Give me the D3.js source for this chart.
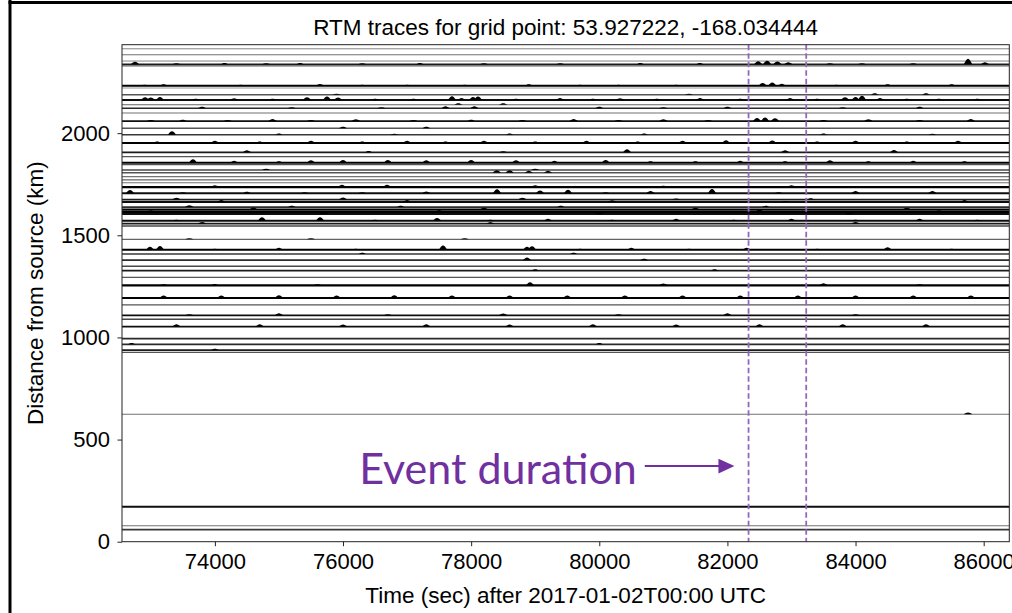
<!DOCTYPE html>
<html>
<head>
<meta charset="utf-8">
<script src="https://cdn.jsdelivr.net/npm/d3@7"></script>
<style>
  body { margin: 0; background: #fff; }
  svg { display: block; }
</style>
</head>
<body>
<svg id="chart" width="1012" height="613"></svg>
<script>
// Station distances from the source (km), one RTM trace per station
const distances = [
  2413, 2384, 2353, 2337, 2329, 2232, 2221, 2188, 2162, 2139,
  2122, 2099, 2059, 2024, 1992, 1952, 1906, 1885, 1855, 1846,
  1820, 1806, 1787, 1771, 1757, 1736, 1706, 1675, 1663, 1638,
  1626, 1614, 1604, 1571, 1557, 1545, 1480, 1429, 1408, 1378,
  1348, 1327, 1294, 1255, 1193, 1159, 1108, 1089, 1053, 994,
  966, 938, 927, 624, 171, 78, 59
];

// Background amplitude of each trace (normalised)
const noiseLevels = [
  0.15, 0.2, 0.15, 0.5, 0.25, 0.6, 0.12, 0.3, 0.55, 0.25,
  0.45, 0.2, 0.55, 0.3, 0.4, 0.65, 0.5, 0.3, 0.6, 0.3,
  0.35, 0.3, 0.2, 0.25, 0.2, 0.65, 0.55, 0.5, 0.55, 0.45,
  0.65, 0.65, 0.55, 0.55, 0.5, 0.35, 0.25, 0.6, 0.4, 0.45,
  0.35, 0.5, 0.3, 0.65, 0.6, 0.3, 0.55, 0.35, 0.55, 0.45,
  0.45, 0.5, 0.3, 0.2, 0.55, 0.2, 0.4
];

// Envelope peaks per trace: [time (s), normalised amplitude]
const peaks = [
  [],
  [],
  [],
  [[72753,.35],[73400,.15],[74150,.2],[74800,.15],[75330,.2],[76300,.15],[77200,.2],[78200,.15],[79390,.15],[80640,.2],[81570,.2],[82480,.45],[82620,.5],[82780,.4],[82950,.3],[83600,.15],[84100,.15],[84900,.15],[85756,.8],[86020,.3]],
  [],
  [[72900,.15],[73200,.2],[74400,.15],[75640,.25],[76300,.15],[77000,.15],[77900,.15],[78900,.2],[79700,.15],[80300,.15],[81200,.15],[82550,.4],[82700,.45],[82850,.3],[83700,.15],[84500,.2],[85500,.2]],
  [],
  [[75900,.15],[81400,.15],[84300,.2],[85100,.2]],
  [[72910,.4],[73000,.35],[73143,.45],[73700,.2],[74300,.25],[74900,.2],[75438,.4],[75750,.5],[75922,.35],[76500,.2],[77100,.2],[77701,.55],[77850,.3],[78029,.45],[78107,.5],[78700,.2],[79387,.3],[79900,.2],[80324,.25],[80900,.2],[81573,.3],[82200,.2],[82978,.3],[83400,.2],[83836,.4],[84000,.45],[84101,.6],[84382,.3],[84800,.2],[85300,.2],[85900,.2]],
  [[77800,.2],[78500,.2]],
  [[73800,.2],[75200,.15],[76600,.15],[77600,.3],[78050,.3],[80000,.2],[81000,.15],[82000,.2],[83800,.15],[85000,.2]],
  [],
  [[73000,.15],[73500,.2],[74200,.15],[74900,.3],[75500,.15],[76200,.25],[77100,.15],[78000,.2],[78800,.15],[79600,.3],[80300,.15],[81000,.25],[81700,.15],[82462,.45],[82587,.5],[82743,.4],[83500,.15],[84200,.25],[85000,.15],[85800,.3]],
  [[76000,.2],[77300,.2]],
  [[73330,.5],[75000,.2],[76800,.15],[78600,.2],[80700,.2],[83500,.2],[85200,.15]],
  [[73100,.2],[74000,.3],[74700,.2],[75500,.3],[76300,.2],[77000,.3],[77600,.2],[78200,.3],[79000,.2],[79800,.3],[80600,.2],[81300,.3],[81978,.4],[82700,.35],[83400,.2],[84000,.3],[84800,.2],[85600,.3]],
  [[74500,.3],[76400,.2],[78500,.15],[80433,.45],[82900,.3],[84600,.35]],
  [],
  [[73658,.5],[74300,.3],[75000,.2],[75500,.35],[76000,.4],[76700,.4],[77300,.35],[78000,.4],[78700,.35],[79300,.3],[80100,.4],[80800,.2],[81500,.2],[82200,.3],[82900,.2],[83600,.35],[84200,.2],[84900,.3],[85700,.2]],
  [],
  [[74800,.15],[79000,.15]],
  [[78400,.35],[78600,.35],[78900,.3],[79200,.3]],
  [],
  [],
  [],
  [[73200,.15],[74000,.25],[74900,.15],[75984,.35],[76687,.35],[77600,.15],[78300,.15],[79000,.25],[80100,.15],[81000,.2],[82000,.15],[83000,.25],[84200,.15],[85400,.15]],
  [[72675,.45],[73500,.15],[74500,.2],[75400,.15],[76300,.15],[77300,.25],[78404,.55],[79075,.4],[79512,.5],[80100,.15],[80800,.3],[81760,.6],[82800,.15],[84000,.3],[85200,.3]],
  [[73400,.25],[76000,.3],[78800,.25],[81200,.15],[83300,.2]],
  [[74100,.3],[77000,.3],[80200,.25],[82900,.15],[85700,.3]],
  [[73600,.25],[75200,.2],[76900,.2],[79400,.2],[82600,.2]],
  [[74600,.3],[78200,.25],[81500,.25],[84800,.25]],
  [[73000,.25],[77500,.3],[82500,.35],[85300,.25]],
  [[75700,.25],[80000,.25],[83900,.25]],
  [[73400,.15],[74735,.5],[75641,.5],[76500,.15],[77467,.4],[78300,.15],[79200,.3],[80200,.15],[81200,.3],[82100,.15],[83000,.3],[84000,.15],[85000,.3],[85900,.15]],
  [[73800,.25],[78300,.2],[84000,.25]],
  [],
  [[73600,.15],[75500,.15],[77900,.15]],
  [[72987,.45],[73143,.55],[74000,.15],[75000,.3],[76200,.15],[77561,.6],[78872,.45],[78950,.5],[79700,.15],[80500,.3],[81400,.15],[82300,.3],[83400,.15],[84500,.35],[85500,.15]],
  [[76300,.2],[79600,.2]],
  [[78872,.4],[80700,.2]],
  [],
  [[79000,.2],[81800,.2]],
  [],
  [[73200,.15],[74000,.2],[75600,.15],[78919,.45],[81000,.25],[83500,.3],[85000,.15]],
  [[73200,.35],[74100,.35],[75000,.4],[75900,.35],[76800,.4],[77700,.35],[78600,.35],[79500,.35],[80400,.35],[81300,.35],[82200,.35],[83100,.35],[84000,.35],[84900,.35],[85800,.35]],
  [],
  [[73600,.15],[75000,.3],[76700,.15],[78500,.25],[80300,.15],[82000,.3],[84000,.15]],
  [],
  [[73400,.35],[74700,.35],[76000,.3],[77300,.35],[78600,.3],[79900,.35],[81200,.3],[82500,.35],[83800,.35],[85100,.35]],
  [],
  [[72700,.2],[80000,.2]],
  [[74000,.2]],
  [],
  [[85756,.25]],
  [],
  [],
  []
];

const timeRange = [72550, 86400];
const distRange = [0, 2433];
const xTicks = [74000, 76000, 78000, 80000, 82000, 84000, 86000];
const yTicks = [0, 500, 1000, 1500, 2000];
const eventWindow = [82330, 83230];
const eventLabel = "Event duration";
const arrowTimes = [80710, 82110];
const arrowDistance = 370;

const titleText = "RTM traces for grid point: 53.927222, -168.034444";
const xLabel = "Time (sec) after 2017-01-02T00:00 UTC";
const yLabel = "Distance from source (km)";

// ---- layout ----
const svg = d3.select("#chart");
const W = 1012, H = 613;
const plot = { left: 122, top: 44.7, right: 1009.3, bottom: 541.7 };
const FONT = "'Liberation Sans', Arial, Helvetica, sans-serif";

svg.append("rect").attr("width", W).attr("height", H).attr("fill", "#fff");

// outer figure frame
svg.append("rect").attr("x", 8.5).attr("y", 0).attr("width", 3).attr("height", H).attr("fill", "#000");
svg.append("rect").attr("x", 8.5).attr("y", 1).attr("width", W).attr("height", 3).attr("fill", "#000");

const x = d3.scaleLinear().domain(timeRange).range([plot.left, plot.right]);
const y = d3.scaleLinear().domain(distRange).range([plot.bottom, plot.top]);
const amp = d3.scaleLinear().domain([0, 1]).range([0, 7]);
const lineWidth = d3.scaleLinear().domain([0.1, 0.75]).range([0.85, 2.4]).clamp(true);
const lineTone = d3.scaleLinear().domain([0.1, 0.6]).range(["#8e8e8e", "#000"]).clamp(true);
const peakHalfWidth = 65;

svg.append("defs").append("clipPath").attr("id", "plotClip")
  .append("rect")
  .attr("x", plot.left).attr("y", plot.top)
  .attr("width", plot.right - plot.left).attr("height", plot.bottom - plot.top);

const traces = svg.append("g").attr("clip-path", "url(#plotClip)");

const baseLine = d3.line().x(d => x(d[0])).y(d => d[1]);
const bump = d3.area()
  .x(d => x(d[0]))
  .curve(d3.curveMonotoneX);

distances.forEach((dist, i) => {
  const y0 = y(dist);
  const n = noiseLevels[i];
  const g = traces.append("g");
  g.append("path")
    .attr("d", baseLine([[timeRange[0], y0], [timeRange[1], y0]]))
    .attr("fill", "none")
    .attr("stroke", lineTone(n))
    .attr("stroke-width", lineWidth(n));
  peaks[i].forEach(([t, a]) => {
    const pts = [[t - peakHalfWidth, 0], [t, a], [t + peakHalfWidth, 0]];
    g.append("path")
      .attr("d", bump.y0(y0).y1(d => y0 - amp(d[1]))(pts))
      .attr("fill", "#000");
  });
});

// event window
svg.append("g").selectAll("line").data(eventWindow).join("line")
  .attr("x1", d => x(d)).attr("x2", d => x(d))
  .attr("y1", plot.top).attr("y2", plot.bottom)
  .attr("stroke", "#9467bd")
  .attr("stroke-width", 1.8)
  .attr("stroke-dasharray", "5.5,3");

// axes frame
svg.append("rect")
  .attr("x", plot.left).attr("y", plot.top)
  .attr("width", plot.right - plot.left).attr("height", plot.bottom - plot.top)
  .attr("fill", "none").attr("stroke", "#222").attr("stroke-width", 1);

const xAxis = d3.axisBottom(x).tickValues(xTicks).tickSize(4.5).tickPadding(6.8)
  .tickFormat(d3.format("d"));
const yAxis = d3.axisLeft(y).tickValues(yTicks).tickSize(4.5).tickPadding(7.5)
  .tickFormat(d3.format("d"));

svg.append("g").attr("transform", `translate(0,${plot.bottom})`).call(xAxis)
  .call(g => g.select(".domain").remove())
  .call(g => g.selectAll("line").attr("stroke", "#222"))
  .call(g => g.selectAll("text").attr("fill", "#000").attr("font-size", 22).attr("font-family", FONT));

svg.append("g").attr("transform", `translate(${plot.left},0)`).call(yAxis)
  .call(g => g.select(".domain").remove())
  .call(g => g.selectAll("line").attr("stroke", "#222"))
  .call(g => g.selectAll("text").attr("fill", "#000").attr("font-size", 22).attr("font-family", FONT));

// titles
svg.append("text")
  .attr("x", (plot.left + plot.right) / 2).attr("y", 35)
  .attr("text-anchor", "middle")
  .attr("font-family", FONT).attr("font-size", 22.5)
  .text(titleText);

svg.append("text")
  .attr("x", (plot.left + plot.right) / 2).attr("y", 602.5)
  .attr("text-anchor", "middle")
  .attr("font-family", FONT).attr("font-size", 22.5)
  .text(xLabel);

svg.append("text")
  .attr("transform", `translate(42.7,${(plot.top + plot.bottom) / 2}) rotate(-90)`)
  .attr("text-anchor", "middle")
  .attr("font-family", FONT).attr("font-size", 22.5)
  .text(yLabel);

// annotation
const purple = "#7030a0";
svg.append("text")
  .attr("x", x(arrowTimes[0]) - 8).attr("y", 483.5)
  .attr("text-anchor", "end")
  .attr("font-family", "Lato, 'Open Sans', sans-serif")
  .attr("font-size", 43)
  .attr("fill", purple)
  .text(eventLabel);

const ay = y(arrowDistance);
svg.append("line")
  .attr("x1", x(arrowTimes[0])).attr("x2", x(arrowTimes[1]) - 14)
  .attr("y1", ay).attr("y2", ay)
  .attr("stroke", purple).attr("stroke-width", 2);
svg.append("path")
  .attr("d", `M${x(arrowTimes[1])},${ay} L${x(arrowTimes[1]) - 16},${ay - 7.3} L${x(arrowTimes[1]) - 16},${ay + 7.3} Z`)
  .attr("fill", purple);
</script>
</body>
</html>
